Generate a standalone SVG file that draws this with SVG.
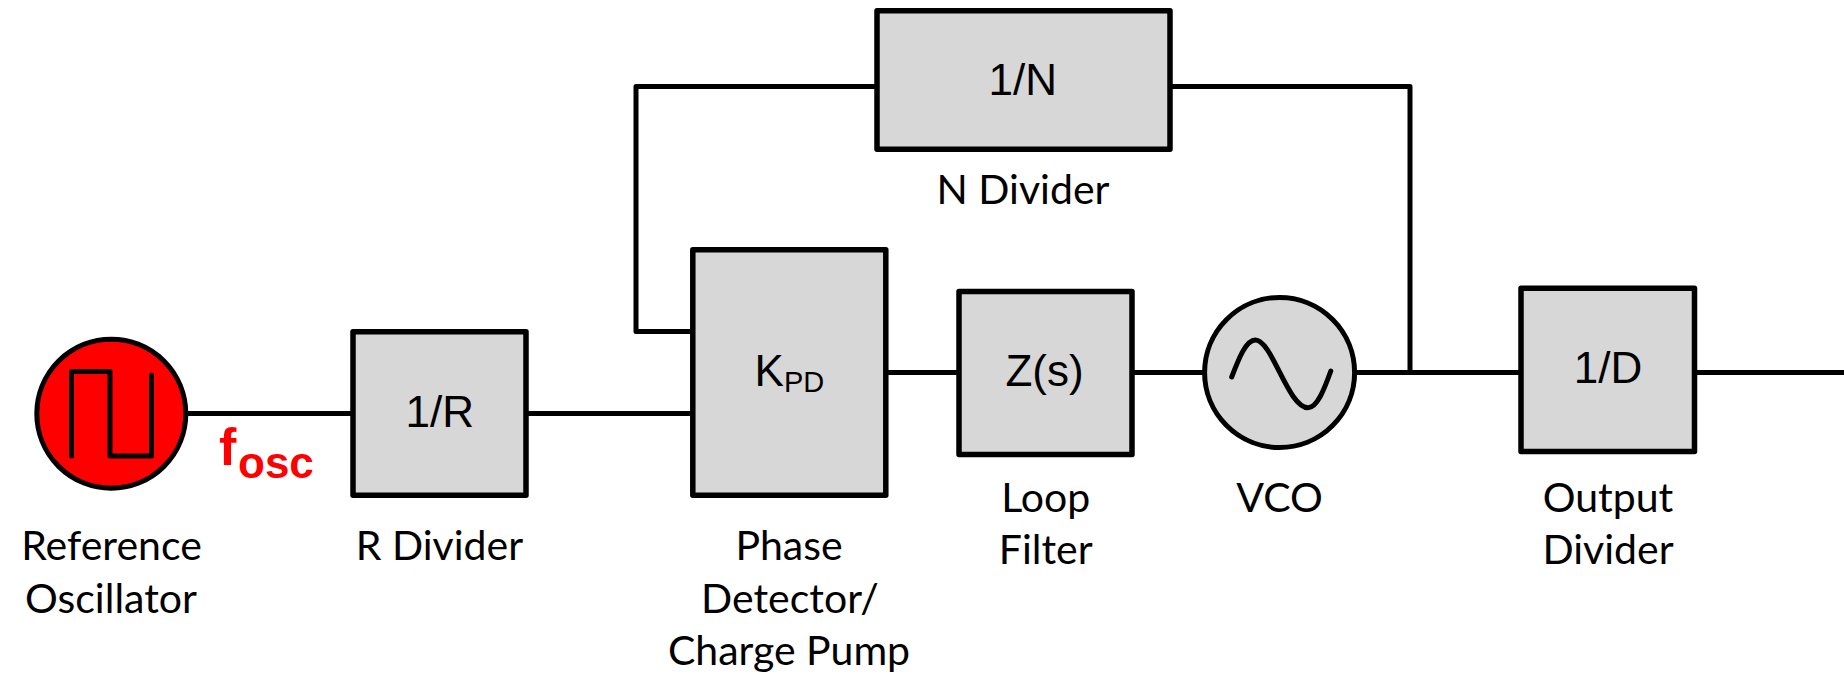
<svg xmlns="http://www.w3.org/2000/svg" width="1844" height="675" viewBox="0 0 1844 675">
<style>
.box{fill:#d7d7d7;stroke:#000;stroke-width:5.5;stroke-linejoin:round}
.wire{fill:none;stroke:#000;stroke-width:5;stroke-linejoin:round}
.glyph{fill:none;stroke:#000;stroke-width:5;stroke-linecap:round;stroke-linejoin:round}
.lbl{font-family:Lato,"Open Sans",sans-serif;font-size:41px;fill:#000;text-anchor:middle}
.val{font-family:"Liberation Sans",Arial,sans-serif;font-size:44px;fill:#000;text-anchor:middle}
.sub{font-family:"Liberation Sans",Arial,sans-serif;font-size:29px;fill:#000}
.red{font-family:"Liberation Sans",Arial,sans-serif;font-weight:bold;fill:#f00}
</style>
<rect width="1844" height="675" fill="#fff"/>
<g id="connectors">
<path class="wire" d="M188 413.5H351"/>
<path class="wire" d="M528 413.5H691"/>
<path class="wire" d="M691 331.5H636V86.5H875"/>
<path class="wire" d="M1172 86.5H1410V372.5"/>
<path class="wire" d="M888 372.5H957"/>
<path class="wire" d="M1134 372.5H1203"/>
<path class="wire" d="M1356 372.5H1520"/>
<path class="wire" d="M1697 372.5H1844"/>
</g>
<g id="reference-oscillator">
<circle cx="111.3" cy="413.7" r="74.5" fill="#f00" stroke="#000" stroke-width="5"/>
<path class="glyph" d="M71.5 456V371.5H110V456H151.5V375"/>
<text class="lbl" x="111.5" y="560">Reference</text>
<text class="lbl" x="111" y="612.5">Oscillator</text>
</g>
<g id="fosc-label">
<text class="red" x="219" y="465" font-size="52">f</text>
<text class="red" x="238" y="478" font-size="44">osc</text>
</g>
<g id="r-divider">
<rect class="box" x="353" y="331.8" width="173" height="163.4"/>
<text class="val" x="439.8" y="427">1/R</text>
<text class="lbl" x="439.5" y="560">R Divider</text>
</g>
<g id="phase-detector">
<rect class="box" x="692.8" y="249.8" width="193" height="245.4"/>
<text class="val" x="754.5" y="385.5" style="text-anchor:start">K</text>
<text class="sub" x="784" y="391.5">PD</text>
<text class="lbl" x="789" y="560">Phase</text>
<text class="lbl" x="790" y="612.5">Detector/</text>
<text class="lbl" x="789" y="665">Charge Pump</text>
</g>
<g id="loop-filter">
<rect class="box" x="959" y="291.5" width="173" height="163"/>
<text class="val" x="1044.5" y="385.5">Z(s)</text>
<text class="lbl" x="1045.7" y="512">Loop</text>
<text class="lbl" x="1045.7" y="564">Filter</text>
</g>
<g id="vco">
<circle cx="1279.6" cy="372.5" r="75" fill="#d7d7d7" stroke="#000" stroke-width="5"/>
<path class="glyph" d="M1231.7 377C1239 358 1246 340 1255.4 340C1272 340 1288 407.7 1308 407.7C1317 407.7 1324 390 1330.8 371"/>
<text class="lbl" x="1279.6" y="511.5">VCO</text>
</g>
<g id="output-divider">
<rect class="box" x="1521" y="288.2" width="173.5" height="163.3"/>
<text class="val" x="1608" y="383">1/D</text>
<text class="lbl" x="1608" y="511.5">Output</text>
<text class="lbl" x="1608" y="564">Divider</text>
</g>
<g id="n-divider">
<rect class="box" x="877" y="10.8" width="293" height="138.4"/>
<text class="val" x="1022.7" y="94.5">1/N</text>
<text class="lbl" x="1023" y="204">N Divider</text>
</g>
</svg>
